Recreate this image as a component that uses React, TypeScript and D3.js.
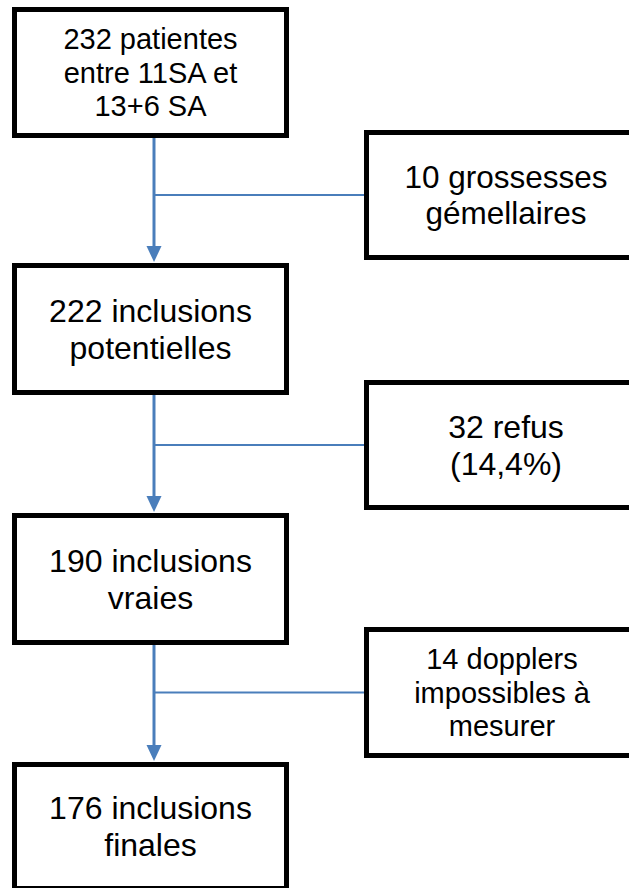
import React, { useEffect, useRef } from 'react';
import * as d3 from 'd3';

// flow steps (left column) and exclusions (right column)
const mainSteps: string[][] = [
  ['232 patientes', 'entre 11SA et', '13+6 SA'],
  ['222 inclusions', 'potentielles'],
  ['190 inclusions', 'vraies'],
  ['176 inclusions', 'finales'],
];
const exclusions: string[][] = [
  ['10 grossesses', 'gémellaires'],
  ['32 refus', '(14,4%)'],
  ['14 dopplers', 'impossibles à', 'mesurer'],
];

const W = 629;
const H = 888;

export default function App() {
  const svgRef = useRef<SVGSVGElement>(null);

  useEffect(() => {
    if (!svgRef.current) return;
    const svg = d3.select(svgRef.current);
    svg.selectAll('*').remove();

    const stroke = 5;
    const blue = '#4a7ebb';
    const font = '"Liberation Sans", Arial, sans-serif';

    // layout (outer edges of boxes)
    const mainBoxes = [
      { x0: 12, x1: 289, y0: 7, y1: 138, fs: 29 },
      { x0: 12, x1: 289, y0: 263, y1: 395, fs: 32 },
      { x0: 12, x1: 289, y0: 513, y1: 645, fs: 32 },
      { x0: 12, x1: 289, y0: 762, y1: 891, fs: 32 },
    ];
    const exclBoxes = [
      { x0: 364, x1: 648, y0: 130, y1: 260, fs: 31.5 },
      { x0: 364, x1: 648, y0: 380, y1: 510, fs: 32 },
      { x0: 364, x1: 640, y0: 627, y1: 758, fs: 29 },
    ];
    const spineX = 154;

    const drawBox = (b: any, lines: string[]) => {
      const g = svg.append('g');
      g.append('rect')
        .attr('x', b.x0 + stroke / 2)
        .attr('y', b.y0 + stroke / 2)
        .attr('width', b.x1 - b.x0 - stroke)
        .attr('height', b.y1 - b.y0 - stroke)
        .attr('fill', '#fff')
        .attr('stroke', '#000')
        .attr('stroke-width', stroke);
      const cx = (b.x0 + b.x1) / 2;
      const cy = (b.y0 + b.y1) / 2;
      const lh = b.fs * 1.16;
      const n = lines.length;
      g.selectAll('text')
        .data(lines)
        .join('text')
        .attr('x', cx)
        .attr('y', (_d, i) => cy + (i - (n - 1) / 2) * lh + 0.35 * b.fs)
        .attr('text-anchor', 'middle')
        .attr('font-family', font)
        .attr('font-size', b.fs)
        .attr('fill', '#000')
        .text(d => d);
    };

    // connectors first, boxes on top
    const conn = svg.append('g');
    mainBoxes.slice(0, -1).forEach((b, i) => {
      const next = mainBoxes[i + 1];
      const excl = exclBoxes[i];
      const branchY = (excl.y0 + excl.y1) / 2;
      const tipY = next.y0 - 1;
      const headH = 16;
      const headW = 15;
      conn.append('line')
        .attr('x1', spineX).attr('x2', spineX)
        .attr('y1', b.y1).attr('y2', tipY - headH + 1)
        .attr('stroke', blue).attr('stroke-width', 3);
      conn.append('line')
        .attr('x1', spineX).attr('x2', excl.x0)
        .attr('y1', branchY).attr('y2', branchY)
        .attr('stroke', blue).attr('stroke-width', 2);
      conn.append('path')
        .attr('d', d3.line()([
          [spineX - headW / 2, tipY - headH],
          [spineX + headW / 2, tipY - headH],
          [spineX, tipY],
        ]) + 'Z')
        .attr('fill', blue);
    });

    mainBoxes.forEach((b, i) => drawBox(b, mainSteps[i]));
    exclBoxes.forEach((b, i) => drawBox(b, exclusions[i]));
  }, []);

  return (
    <div style={{ position: 'absolute', left: 0, top: 0, width: W, height: H, background: '#fff', overflow: 'hidden' }}>
      <svg ref={svgRef} width={W} height={H} style={{ display: 'block' }} />
    </div>
  );
}
